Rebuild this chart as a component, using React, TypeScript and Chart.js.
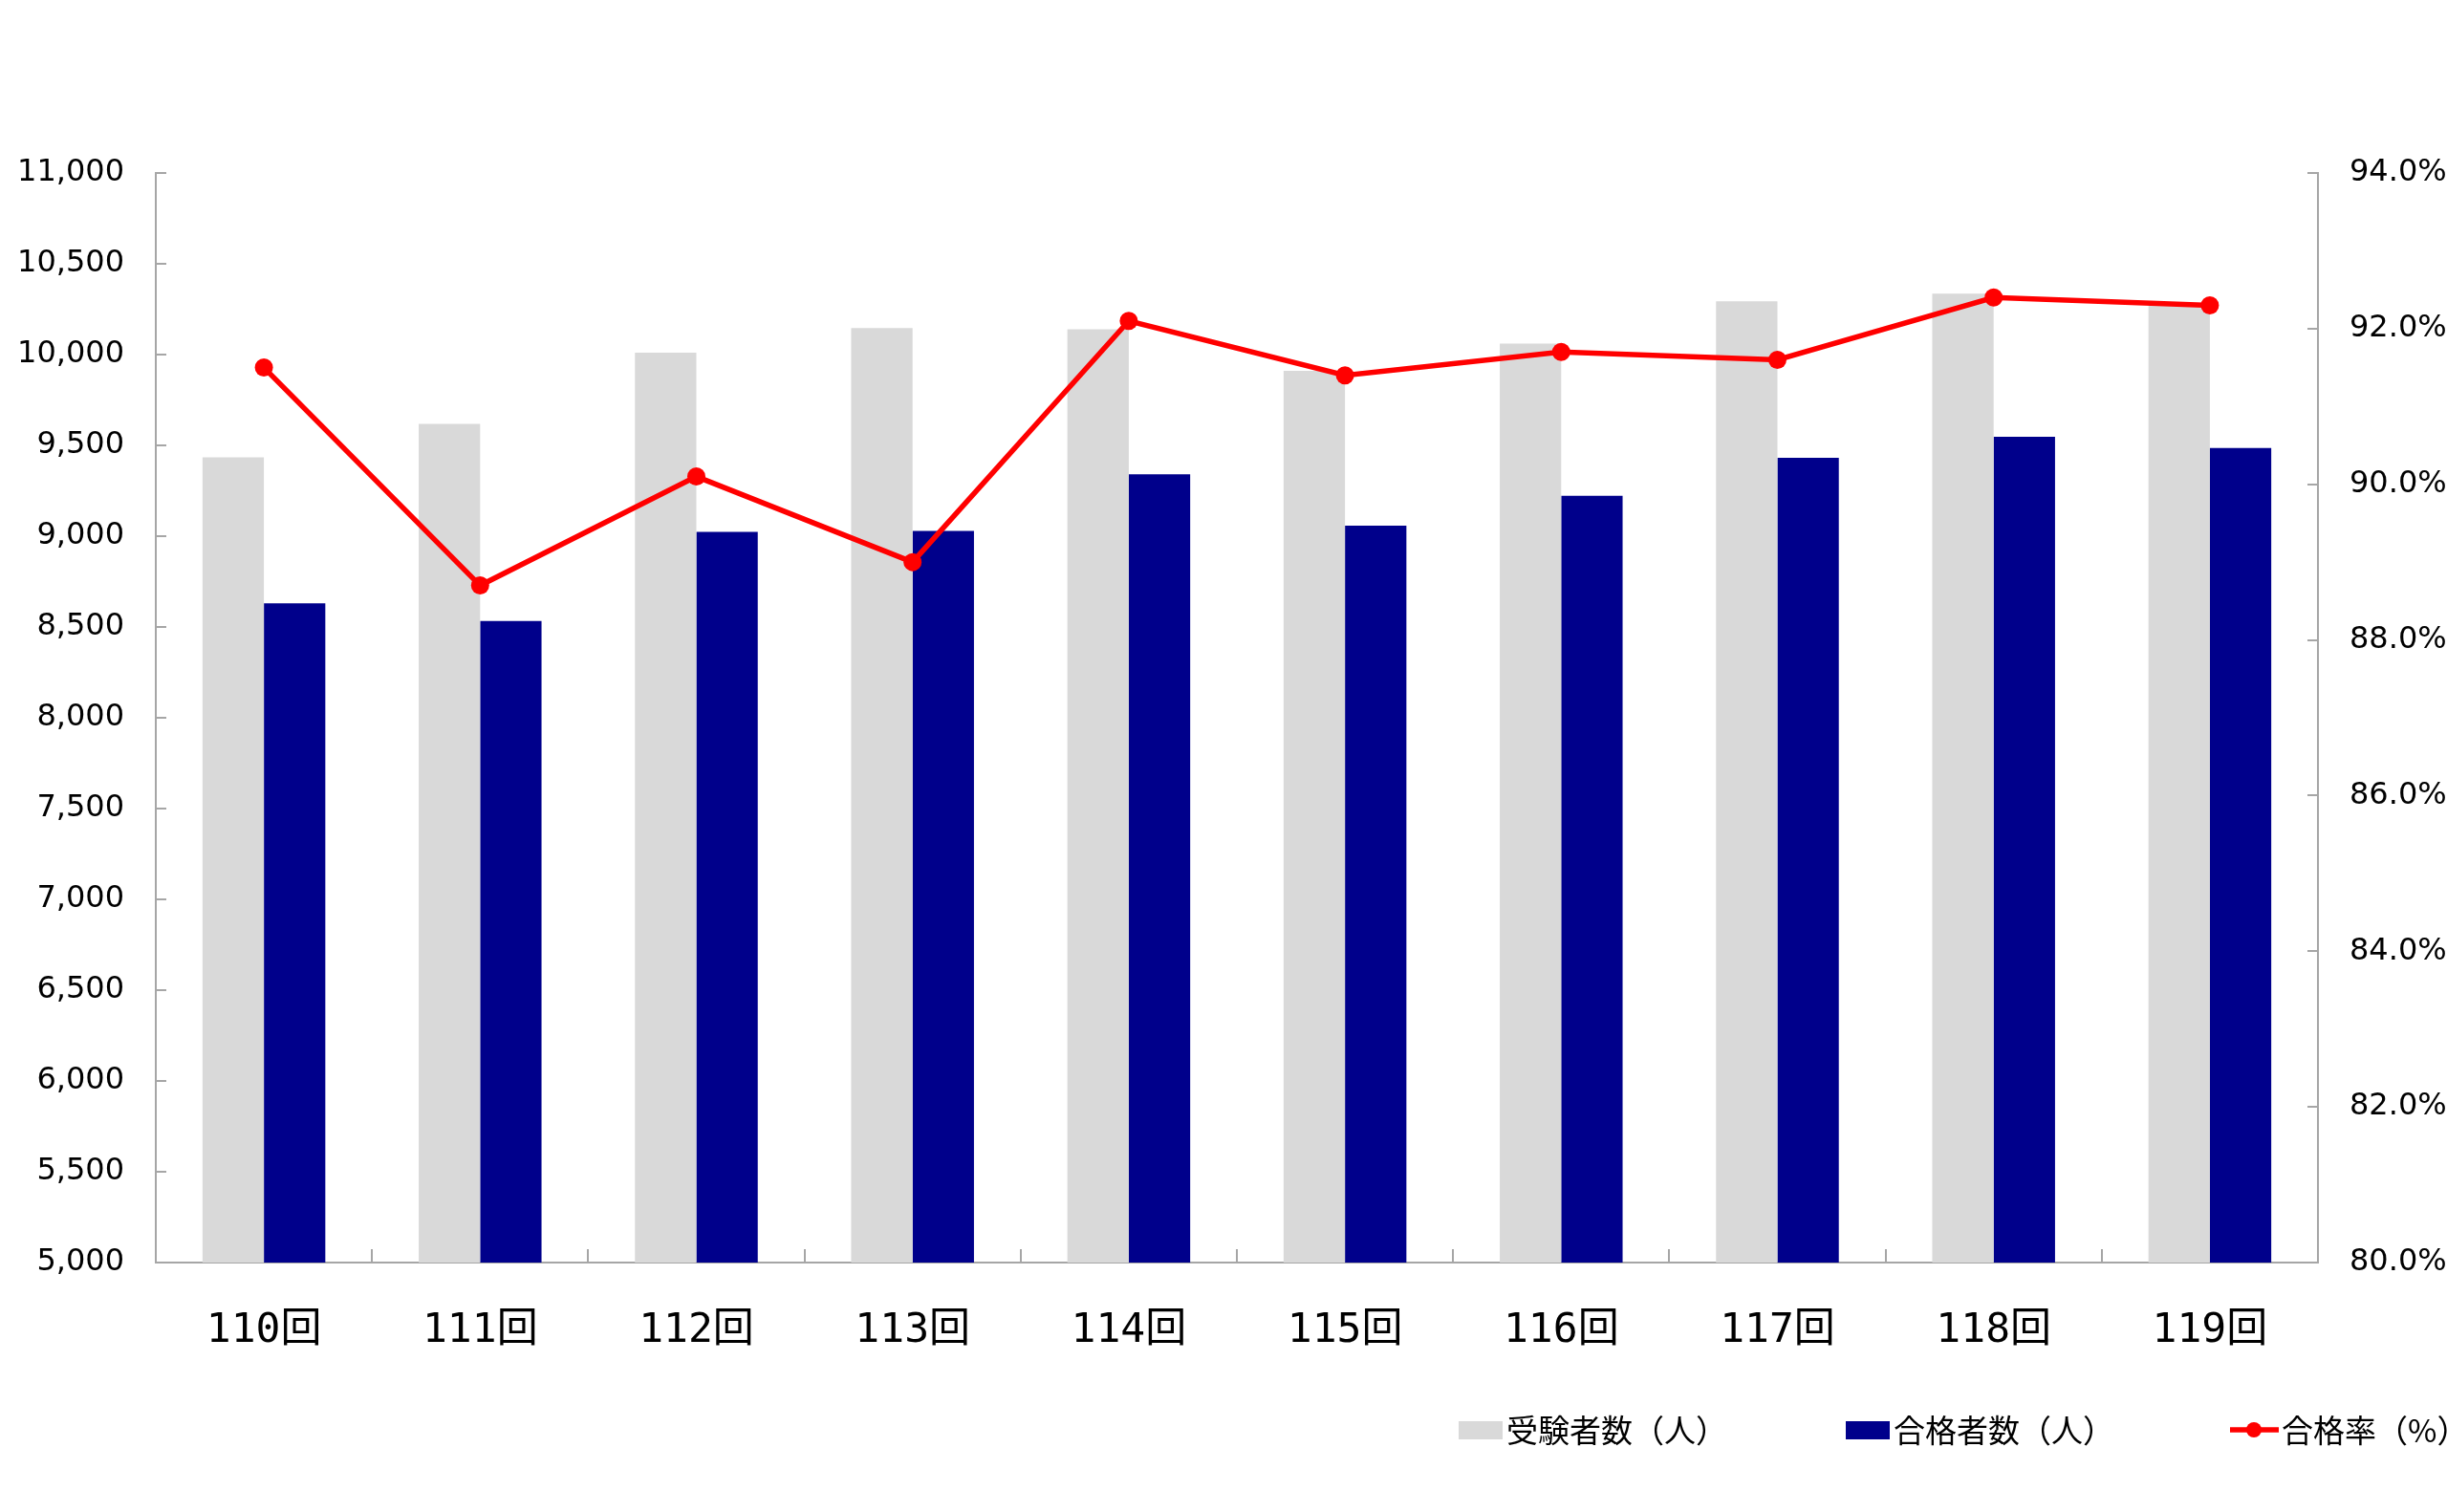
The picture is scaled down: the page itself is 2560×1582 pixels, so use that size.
import { useEffect, useRef } from "react"
import { Chart, registerables } from "chart.js"

Chart.register(...registerables)

const categories = ["110回", "111回", "112回", "113回", "114回", "115回", "116回", "117回", "118回", "119回"]
const examinees = [9434, 9618, 10010, 10146, 10140, 9910, 10061, 10293, 10336, 10282]
const passers = [8630, 8533, 9024, 9029, 9341, 9058, 9222, 9432, 9547, 9486]
const passRates = [91.5, 88.7, 90.1, 89.0, 92.1, 91.4, 91.7, 91.6, 92.4, 92.3]

const GRAY = "#d9d9d9"
const NAVY = "#00008b"
const RED = "#ff0000"
const AXIS = "#a6a6a6"

// 凡例はグラフ下の右寄せ(右端で切れている)を再現するため自前で描く
const bottomLegend = {
  id: "bottomLegend",
  afterDraw(chart: Chart) {
    const ctx = chart.ctx
    const starts = [1526, 1931, 2333]
    const y = 1496
    ctx.save()
    ctx.font = "33px 'Noto Sans CJK JP', sans-serif"
    ctx.textBaseline = "middle"
    ctx.textAlign = "left"
    chart.data.datasets.forEach((ds: any, i: number) => {
      const x = starts[i]
      let textX = x + 52
      if (ds.type === "line") {
        ctx.strokeStyle = RED
        ctx.lineWidth = 5.5
        ctx.beginPath()
        ctx.moveTo(x, y)
        ctx.lineTo(x + 51, y)
        ctx.stroke()
        ctx.fillStyle = RED
        ctx.beginPath()
        ctx.arc(x + 25, y, 8, 0, Math.PI * 2)
        ctx.fill()
        textX = x + 54
      } else {
        ctx.fillStyle = ds.backgroundColor
        ctx.fillRect(x, y - 9, 46, 19)
        textX = x + 50
      }
      ctx.fillStyle = "#000"
      ctx.fillText(ds.label, textX, y)
    })
    ctx.restore()
  },
}

export default function App() {
  const chartRef = useRef<HTMLCanvasElement>(null)
  const chartInstance = useRef<Chart | null>(null)

  useEffect(() => {
    if (!chartRef.current) return
    if (chartInstance.current) {
      chartInstance.current.destroy()
    }
    const ctx = chartRef.current.getContext("2d")
    if (!ctx) return

    chartInstance.current = new Chart(ctx, {
      type: "bar",
      data: {
        labels: categories,
        datasets: [
          {
            type: "bar",
            label: "受験者数（人）",
            data: examinees,
            backgroundColor: GRAY,
            yAxisID: "y",
            barPercentage: 1,
            categoryPercentage: 0.568,
            order: 1,
          },
          {
            type: "bar",
            label: "合格者数（人）",
            data: passers,
            backgroundColor: NAVY,
            yAxisID: "y",
            barPercentage: 1,
            categoryPercentage: 0.568,
            order: 2,
          },
          {
            type: "line",
            label: "合格率（%）",
            data: passRates,
            borderColor: RED,
            backgroundColor: RED,
            borderWidth: 5.5,
            pointRadius: 9.5,
            pointBorderWidth: 0,
            pointBackgroundColor: RED,
            tension: 0,
            yAxisID: "y1",
            order: 0,
          } as any,
        ],
      },
      plugins: [bottomLegend],
      options: {
        animation: false,
        responsive: true,
        maintainAspectRatio: false,
        devicePixelRatio: 1,
        layout: {
          padding: { top: 181, left: 0, right: 0, bottom: 0 },
        },
        plugins: {
          legend: { display: false },
          tooltip: { enabled: false },
        },
        scales: {
          x: {
            offset: true,
            afterFit: (scale: any) => {
              scale.height = 261
            },
            grid: {
              offset: true,
              drawOnChartArea: false,
              tickLength: -14,
              color: AXIS,
              lineWidth: 2,
            },
            border: { color: AXIS, width: 2 },
            ticks: {
              color: "#000",
              padding: 60,
              font: { family: "'DejaVu Sans Mono', 'Noto Sans CJK JP', monospace", size: 43 },
            },
          },
          y: {
            position: "left",
            min: 5000,
            max: 11000,
            afterFit: (scale: any) => {
              scale.width = 163
            },
            grid: {
              drawOnChartArea: false,
              tickLength: -11,
              color: AXIS,
              lineWidth: 2,
            },
            border: { color: AXIS, width: 2 },
            ticks: {
              stepSize: 500,
              color: "#000",
              padding: 44,
              font: { family: "'DejaVu Sans', sans-serif", size: 32 },
              callback: (value) => Number(value).toLocaleString("en-US"),
            },
          },
          y1: {
            position: "right",
            min: 80,
            max: 94,
            afterFit: (scale: any) => {
              scale.width = 135
            },
            grid: {
              drawOnChartArea: false,
              tickLength: -11,
              color: AXIS,
              lineWidth: 2,
            },
            border: { color: AXIS, width: 2 },
            ticks: {
              stepSize: 2,
              color: "#000",
              padding: 44,
              font: { family: "'DejaVu Sans', sans-serif", size: 32 },
              callback: (value) => Number(value).toFixed(1) + "%",
            },
          },
        },
      },
    })

    return () => {
      if (chartInstance.current) {
        chartInstance.current.destroy()
        chartInstance.current = null
      }
    }
  }, [])

  return (
    <div style={{ position: "absolute", left: 0, top: 0, width: 2560, height: 1582, background: "#fff" }}>
      <canvas ref={chartRef} />
    </div>
  )
}
